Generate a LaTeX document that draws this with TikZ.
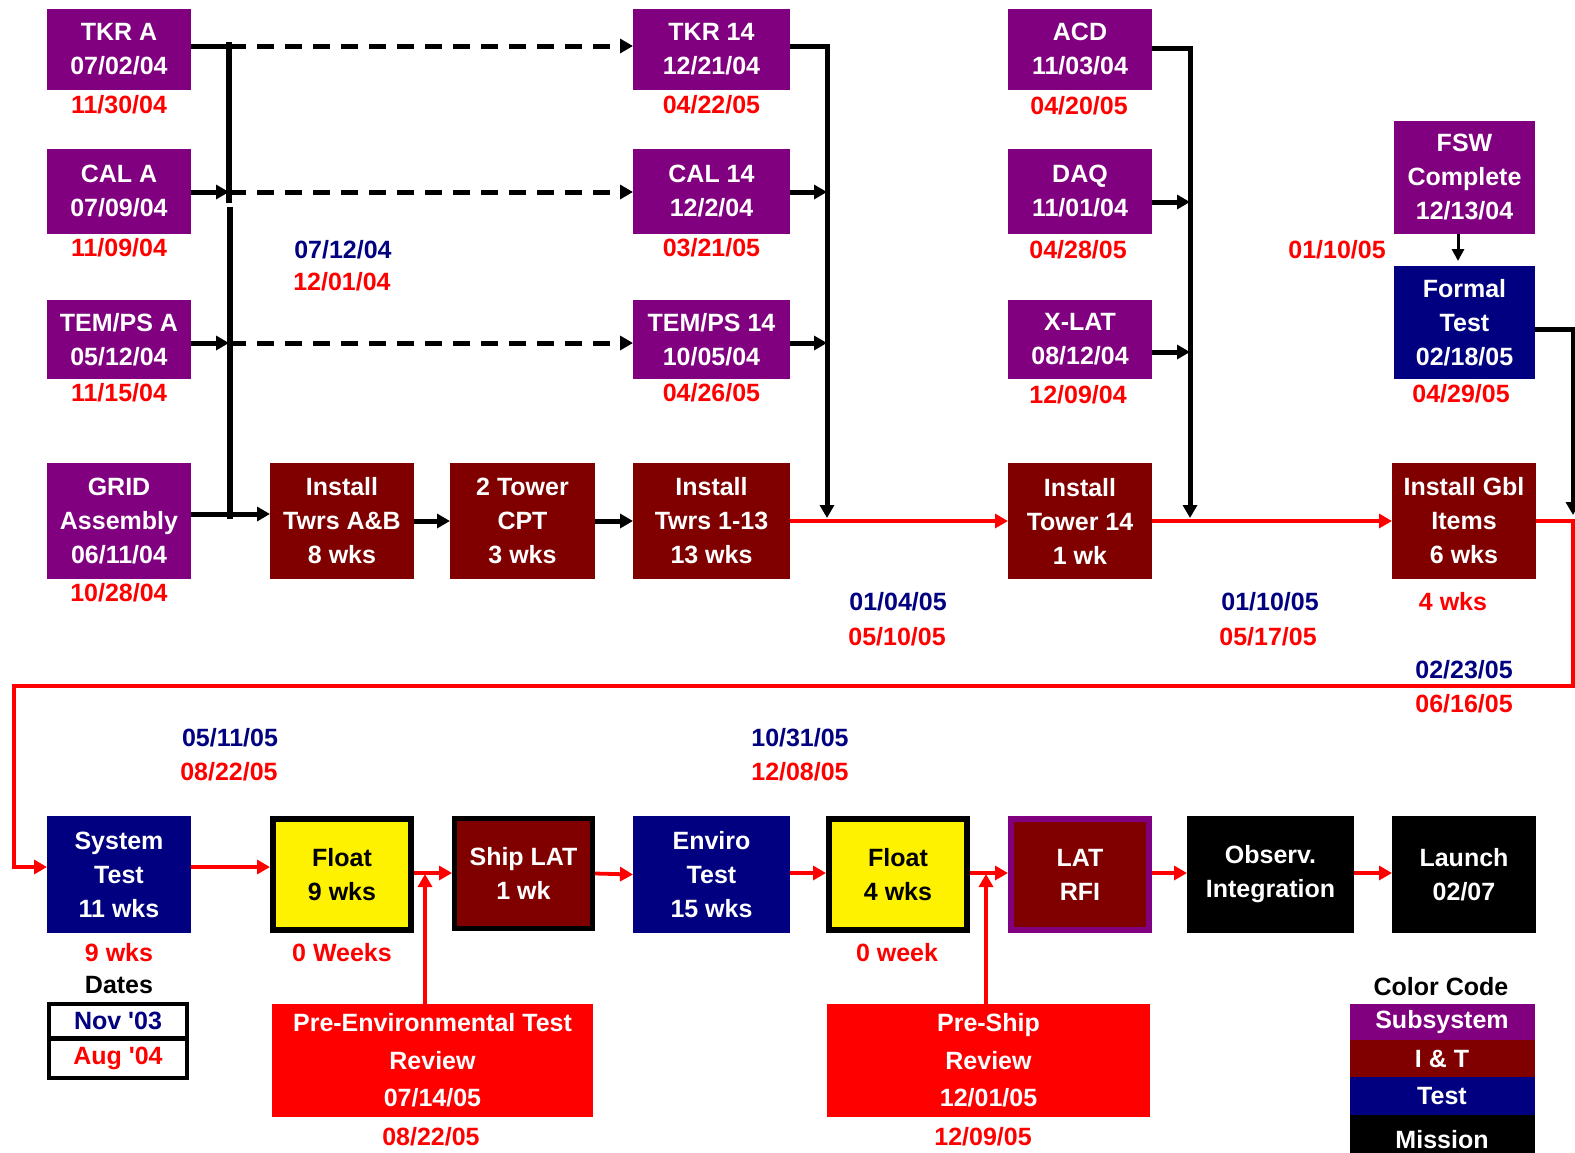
\documentclass[tikz,border=0pt]{standalone}
\usepackage{fontspec}
\setmainfont{Liberation Sans}
\usetikzlibrary{arrows.meta,calc}
\definecolor{purp}{RGB}{128,0,128}
\definecolor{maroonc}{RGB}{128,0,0}
\definecolor{navyc}{RGB}{0,0,128}
\newcommand{\bxf}{\fontsize{25}{34}\selectfont\bfseries}
\newcommand{\bxfw}{\fontsize{25}{37.5}\selectfont\bfseries}
\begin{document}
\begin{tikzpicture}[x=1pt,y=-1pt,
  box/.style={inner sep=0pt, outer sep=0pt, align=center, font=\bxf, text=white},
  sub/.style={box, fill=purp},
  iandt/.style={box, fill=maroonc},
  tst/.style={box, fill=navyc},
  mis/.style={box, fill=black},
  rev/.style={box, fill=red, font=\bxfw},
  flt/.style={box, fill=yellow, text=black, draw=black, line width=6pt, outer sep=3pt},
  lbl/.style={inner sep=0pt, font=\bxf},
  rd/.style={lbl, text=red},
  nv/.style={lbl, text=navyc},
  blk/.style={line width=5pt, black},
  bus/.style={line width=6pt, black},
  blkarrow/.style={blk, -{Triangle[length=13pt,width=14pt]}},
  dasharrow/.style={blkarrow, dash pattern=on 17pt off 11pt},
  redarrow/.style={line width=3.8pt, red, -{Triangle[length=13pt,width=14pt]}}
]
\useasboundingbox (0,0) rectangle (1575,1152);
\fill[white] (0,0) rectangle (1575,1152);

% ---- top column A
\node[sub, minimum width=144, minimum height=81] (tkra) at (119,49.5) {TKR A\\07/02/04};
\node[sub, minimum width=144, minimum height=85] (cala) at (119,191.5) {CAL A\\07/09/04};
\node[sub, minimum width=144, minimum height=79] (tempsa) at (119,339.5) {TEM/PS A\\05/12/04};
\node[sub, minimum width=144, minimum height=116] (grid) at (119,521) {GRID\\Assembly\\06/11/04};
\node[rd] (tkrad) at (119,105) {11/30/04};
\node[rd] (calad) at (119,248) {11/09/04};
\node[rd] (tempsad) at (119,393) {11/15/04};
\node[rd] (gridd) at (119,593) {10/28/04};

% ---- column 14
\node[sub, minimum width=157, minimum height=81] (tkr14) at (711.5,49.5) {TKR 14\\12/21/04};
\node[sub, minimum width=157, minimum height=85] (cal14) at (711.5,191.5) {CAL 14\\12/2/04};
\node[sub, minimum width=157, minimum height=79] (temps14) at (711.5,339.5) {TEM/PS 14\\10/05/04};
\node[rd] (tkr14d) at (711.5,105) {04/22/05};
\node[rd] (cal14d) at (711.5,248) {03/21/05};
\node[rd] (temps14d) at (711.5,393) {04/26/05};

% ---- ACD column
\node[sub, minimum width=144, minimum height=81] (acd) at (1080,49.5) {ACD\\11/03/04};
\node[sub, minimum width=144, minimum height=85] (daq) at (1080,191.5) {DAQ\\11/01/04};
\node[sub, minimum width=144, minimum height=79] (xlat) at (1080,339.5) {X-LAT\\08/12/04};
\node[rd] (acdd) at (1079,106) {04/20/05};
\node[rd] (daqd) at (1078,250) {04/28/05};
\node[rd] (xlatd) at (1078,395) {12/09/04};

% ---- FSW / formal test
\node[sub, minimum width=141, minimum height=113] (fsw) at (1464.5,177.5) {FSW\\Complete\\12/13/04};
\node[tst, minimum width=141, minimum height=113] (ft) at (1464.5,322.5) {Formal\\Test\\02/18/05};
\node[rd] (ftd1) at (1337,250) {01/10/05};
\node[rd] (ftd2) at (1461,394) {04/29/05};

% ---- I&T row
\node[iandt, minimum width=144, minimum height=116] (inab) at (342,521) {Install\\Twrs A\&B\\8 wks};
\node[iandt, minimum width=145, minimum height=116] (cpt) at (522.5,521) {2 Tower\\CPT\\3 wks};
\node[iandt, minimum width=157, minimum height=116] (in113) at (711.5,521) {Install\\Twrs 1-13\\13 wks};
\node[iandt, minimum width=144, minimum height=116] (tw14) at (1080,521) {Install\\Tower 14\\1 wk};
\node[iandt, minimum width=144, minimum height=116] (gbl) at (1464,521) {Install Gbl\\Items\\6 wks};

% ---- free labels
\node[nv] (l1a) at (343,250) {07/12/04};
\node[rd] (l1b) at (342,282) {12/01/04};
\node[nv] (l2a) at (898,602) {01/04/05};
\node[rd] (l2b) at (897,637) {05/10/05};
\node[nv] (l3a) at (1270,602) {01/10/05};
\node[rd] (l3b) at (1268,637) {05/17/05};
\node[rd] (l4) at (1453,602) {4 wks};
\node[nv] (l5a) at (1464,670) {02/23/05};
\node[rd] (l5b) at (1464,704) {06/16/05};
\node[nv] (l6a) at (230,738) {05/11/05};
\node[rd] (l6b) at (229,772) {08/22/05};
\node[nv] (l7a) at (800,738) {10/31/05};
\node[rd] (l7b) at (800,772) {12/08/05};

% ---- bottom row
\node[tst, minimum width=144, minimum height=117] (systest) at (119,874.5) {System\\Test\\11 wks};
\node[flt, minimum width=138, minimum height=111] (float9) at (342,874.5) {Float\\9 wks};
\node[iandt, draw=black, line width=5pt, outer sep=2.5pt, minimum width=138, minimum height=110] (shiplat) at (523.5,873.5) {Ship LAT\\1 wk};
\node[tst, minimum width=157, minimum height=117] (enviro) at (711.5,874.5) {Enviro\\Test\\15 wks};
\node[flt, minimum width=138, minimum height=111] (float4) at (898,874.5) {Float\\4 wks};
\node[iandt, draw=purp, line width=6pt, outer sep=3pt, minimum width=138, minimum height=111] (latrfi) at (1080,874.5) {LAT\\RFI};
\node[mis, minimum width=167, minimum height=117] (observ) at (1270.5,874.5) {Observ.\\Integration};
\node[mis, minimum width=144, minimum height=117] (launch) at (1464,874.5) {Launch\\02/07};

\node[rd] (st9) at (119,953) {9 wks};
\node[rd] (f9d) at (342,953) {0 Weeks};
\node[rd] (f4d) at (897,953) {0 week};
\node[lbl] (dates) at (119,985) {Dates};
\node[lbl, text=navyc, draw=black, line width=4pt, minimum width=138, minimum height=34] (nov) at (118,1021) {Nov \textquotesingle03};
\node[lbl, text=red, draw=black, line width=4pt, minimum width=138, minimum height=39] (aug) at (118,1058.5) {Aug \textquotesingle04};

% ---- reviews
\node[rev, minimum width=321, minimum height=113] (preenv) at (432.5,1060.5) {Pre-Environmental Test\\Review\\07/14/05};
\node[rd] (preenvd) at (431,1137) {08/22/05};
\node[rev, minimum width=323, minimum height=113] (preship) at (988.5,1060.5) {Pre-Ship\\Review\\12/01/05};
\node[rd] (preshipd) at (983,1137) {12/09/05};

% ---- legend
\node[lbl] (cc) at (1441,987) {Color Code};
\node[sub, minimum width=185, minimum height=36] (lg1) at (1442,1022) {Subsystem};
\node[iandt, minimum width=185, minimum height=37] (lg2) at (1442,1058.5) {I \& T};
\node[tst, minimum width=185, minimum height=38] (lg3) at (1442,1096) {Test};
\node[mis, minimum width=185, minimum height=50] (lg4) at (1442,1140) {Mission};

% ---- coordinates
\coordinate (b1) at (229,46);
\coordinate (b2) at (229,192);
\coordinate (b3) at (229,343);
\coordinate (b4) at (229,514);
\coordinate (bustop) at (229,42);
\coordinate (gapa) at (229,203);
\coordinate (gapb) at (230,207);
\coordinate (busbot) at (230,519);
\coordinate (v1) at (827,46);
\coordinate (v2) at (1190,48);
\coordinate (d1) at (1190,202);
\coordinate (x1) at (1190,352);
\coordinate (f1) at (1458,0);
\coordinate (v3) at (1573,329);
\coordinate (rl1) at (1573,686);
\coordinate (rl2) at (14,686);
\coordinate (rl3) at (14,867);
\coordinate (j1) at (425,873);
\coordinate (j2) at (986,873);

% ---- connectors, left bus
\draw[bus] (bustop) -- (gapa);
\draw[bus] (gapb) -- (busbot);
\draw[blk] (tkra.east|-b1) -- (b1);
\draw[blkarrow] (cala.east|-b2) -- (b2);
\draw[blkarrow] (tempsa.east|-b3) -- (b3);
\draw[blkarrow] (grid.east|-b4) -- (inab.west|-b4);
\draw[dasharrow] (b1) -- (tkr14.west|-b1);
\draw[dasharrow] (b2) -- (cal14.west|-b2);
\draw[dasharrow] (b3) -- (temps14.west|-b3);

\draw[blkarrow] (inab.east) -- (cpt.west);
\draw[blkarrow] (cpt.east) -- (in113.west);

% column 14 to main line
\draw[blkarrow, shorten >=3pt] (tkr14.east|-v1) -- (v1) -- (v1|-in113.east);
\draw[blkarrow] (cal14.east|-b2) -- (b2-|v1);
\draw[blkarrow] (temps14.east|-b3) -- (b3-|v1);

% ACD column to main line
\draw[blkarrow, shorten >=3pt] (acd.east|-v2) -- (v2) -- (v2|-tw14.east);
\draw[blkarrow] (daq.east|-d1) -- (d1);
\draw[blkarrow] (xlat.east|-x1) -- (x1);

% FSW / formal test
\draw[line width=3pt, -{Triangle[length=12pt,width=12pt]}, shorten >=5pt] (fsw.south-|f1) -- (ft.north-|f1);
\draw[blkarrow, shorten >=6pt] (ft.east|-v3) -- (v3) -- (v3|-gbl.east);

% critical path (red)
\draw[redarrow] (in113.east) -- (tw14.west);
\draw[redarrow] (tw14.east) -- (gbl.west);
\draw[redarrow] (gbl.east) -- (gbl.east-|rl1) -- (rl1) -- (rl2) -- (rl3) -- (systest.west|-rl3);
\draw[redarrow] (systest.east|-rl3) -- (float9.west|-rl3);
\draw[redarrow] (float9.east|-j1) -- (shiplat.west|-j1);
\draw[redarrow, shorten >=1pt] (preenv.north-|j1) -- (j1);
\draw[redarrow] (shiplat.east) -- (enviro.west);
\draw[redarrow] (enviro.east|-j2) -- (float4.west|-j2);
\draw[redarrow] (float4.east|-j2) -- (latrfi.west|-j2);
\draw[redarrow, shorten >=1pt] (preship.north-|j2) -- (j2);
\draw[redarrow] (latrfi.east|-j2) -- (observ.west|-j2);
\draw[redarrow] (observ.east|-j2) -- (launch.west|-j2);
\end{tikzpicture}
\end{document}
